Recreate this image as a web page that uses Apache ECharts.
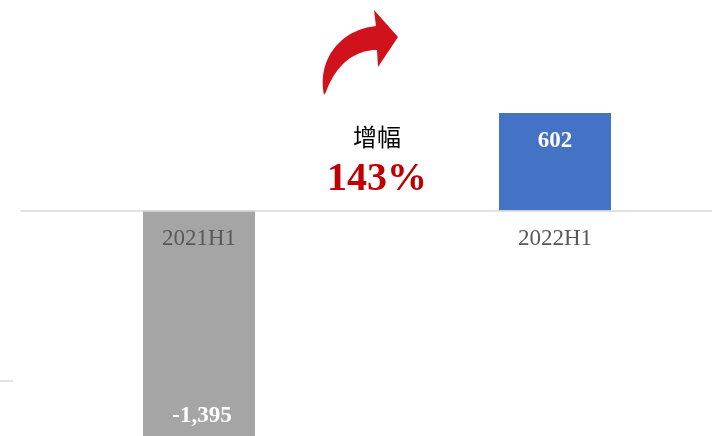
<!DOCTYPE html>
<html><head><meta charset="utf-8">
<script src="https://cdn.jsdelivr.net/npm/echarts@6/dist/echarts.min.js"></script>
<style>html,body{margin:0;padding:0;background:#fff}#c{width:712px;height:436px}</style>
</head><body><div id="c"></div>
<script>
var categories = ['2021H1', '2022H1'];
var values = [-1395, 602];
var barColors = ['#A5A5A5', '#4472C4'];
var growthLabel = '增幅';
var growthValue = '143%';

function bez(p0, p1, p2, p3, n) {
  var out = [];
  for (var i = 0; i <= n; i++) {
    var t = i / n, u = 1 - t;
    out.push([u*u*u*p0[0] + 3*u*u*t*p1[0] + 3*u*t*t*p2[0] + t*t*t*p3[0],
              u*u*u*p0[1] + 3*u*u*t*p1[1] + 3*u*t*t*p2[1] + t*t*t*p3[1]]);
  }
  return out;
}
var arrowPts = bez([324, 95], [317, 62], [338, 30], [376, 26], 24)
  .concat([[374, 10], [398, 37], [378, 67]])
  .concat(bez([377, 50], [355, 50], [336, 64], [326, 92], 24));

var chart = echarts.init(document.getElementById('c'));
chart.setOption({
  animation: false,
  grid: { left: 21, top: 0, width: 712, height: 453.5, outerBoundsMode: 'none', containLabel: false },
  xAxis: {
    type: 'category', data: categories,
    axisLine: { onZero: true, lineStyle: { color: '#D9D9D9', width: 1.5 } },
    axisTick: { show: false },
    axisLabel: { show: false },
    z: 5
  },
  yAxis: { type: 'value', min: -1500, max: 1300, show: false, splitLine: { show: false } },
  series: [{
    type: 'bar', barWidth: 112,
    data: values.map(function (v, i) { return { value: v, itemStyle: { color: barColors[i] },
      label: { position: v < 0 ? 'insideBottom' : 'insideTop', distance: v < 0 ? 9 : 17, offset: v < 0 ? [3, 0] : [0, 0] } }; }),
    label: {
      show: true, color: '#fff', fontFamily: 'Liberation Serif', fontWeight: 'bold', fontSize: 23,
      formatter: function (p) { return p.value.toLocaleString('en-US'); }
    },
    z: 2
  }, {
    type: 'scatter', symbolSize: 0, silent: true, z: 6,
    data: categories.map(function (c) { return [c, 0]; }),
    itemStyle: { opacity: 1 },
    label: {
      show: true, position: 'bottom', distance: 17, color: '#595959',
      fontFamily: 'Liberation Serif', fontSize: 23,
      formatter: function (p) { return p.value[0]; }
    }
  }],
  graphic: [
    { type: 'polygon', shape: { points: arrowPts }, style: { fill: '#D0121D' } },
    { type: 'text', style: { text: growthLabel, x: 377, y: 137, align: 'center', verticalAlign: 'middle',
      font: '24px "Noto Sans CJK SC", serif', fill: '#000' } },
    { type: 'text', style: { text: growthValue, x: 377, y: 180, align: 'center', verticalAlign: 'middle',
      font: 'bold 40px "Liberation Serif"', fill: '#C00000' } },
    { type: 'line', shape: { x1: 0, y1: 381, x2: 13, y2: 381 }, style: { stroke: '#D9D9D9', lineWidth: 1.5 } }
  ]
});
</script></body></html>
